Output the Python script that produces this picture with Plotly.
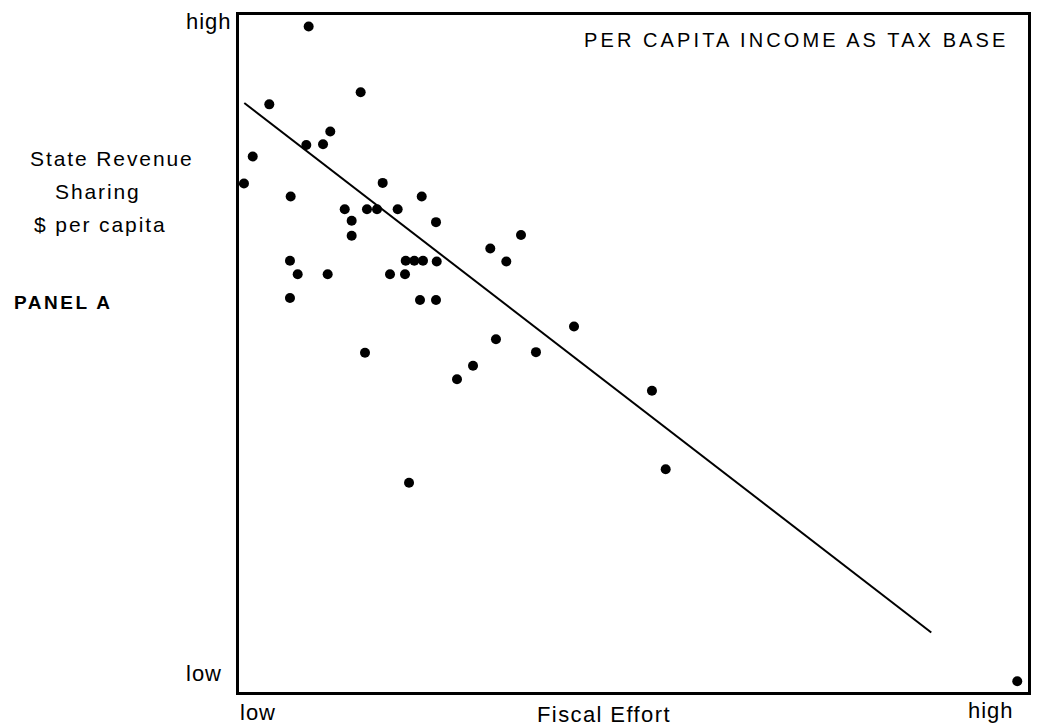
import plotly.graph_objects as go

# Fiscal effort (x) vs state revenue sharing per capita (y), on a 0-100 relative scale
fiscal_effort = [8.83, 3.84, 15.42, 1.74, 0.63, 8.53, 10.65, 11.57, 6.55, 18.21,
                 13.40, 16.22, 17.49, 20.11, 14.28, 14.28, 23.16, 24.97, 6.46, 7.44,
                 11.24, 6.46, 19.14, 21.04, 21.13, 22.22, 23.32, 25.06, 22.94, 24.97,
                 15.97, 21.55, 31.85, 35.74, 33.88, 32.57, 37.64, 42.46, 27.63, 29.66,
                 52.34, 54.08, 98.64]
revenue_sharing = [98.3, 86.8, 88.6, 79.1, 75.1, 80.8, 80.9, 82.8, 73.2, 75.2,
                   71.3, 71.3, 71.3, 71.3, 69.6, 67.4, 73.2, 69.4, 63.7, 61.7,
                   61.7, 58.2, 61.7, 61.7, 63.7, 63.7, 63.7, 63.6, 57.9, 57.9,
                   50.1, 30.9, 65.5, 67.5, 63.6, 52.1, 50.2, 54.0, 46.2, 48.2,
                   44.5, 32.9, 1.6]

# fitted regression line end points
fit_x = [0.67, 87.74]
fit_y = [87.0, 8.8]

title_text = "PER CAPITA INCOME AS TAX BASE"
x_title = "Fiscal Effort"
y_title_lines = ["State Revenue", "Sharing", "$ per capita"]
panel_label = "PANEL A"
low_label, high_label = "low", "high"

FONT = "Liberation Sans, Arial, sans-serif"

W, H = 1043, 727
L, R, T, B = 239, 13, 15, 35
PW, PH = W - L - R, H - T - B

def px(x):
    return (x - L) / PW

def py(y):
    return (H - B - y) / PH

fig = go.Figure()
fig.add_trace(go.Scatter(x=fit_x, y=fit_y, mode="lines",
                         line=dict(color="black", width=2), showlegend=False,
                         hoverinfo="skip"))
fig.add_trace(go.Scatter(x=fiscal_effort, y=revenue_sharing, mode="markers",
                         marker=dict(color="black", size=10), showlegend=False))

axis_common = dict(range=[0, 100], showgrid=False, zeroline=False, showticklabels=False,
                   ticks="", showline=True, linecolor="black", linewidth=3, mirror=True)
fig.update_xaxes(**axis_common)
fig.update_yaxes(**axis_common)

ann = []
def add(text, x, y, xa="center", ya="middle", size=21, bold=False, spacing=None):
    t = f"<b>{text}</b>" if bold else text
    if spacing:
        t = f'<span style="letter-spacing:{spacing}px">{t}</span>'
    ann.append(dict(text=t, x=px(x), y=py(y), xref="paper", yref="paper",
                    xanchor=xa, yanchor=ya, showarrow=False,
                    font=dict(family=FONT, size=size, color="black")))

add(high_label, 234, 22, xa="right", size=22, spacing=1)
add(low_label, 224, 673, xa="right", size=22, spacing=1)
add(low_label, 258, 712, size=22, spacing=1)
add(high_label, 993, 710, size=22, spacing=1)
add(x_title, 605, 714, size=22, spacing=1.4)
add(title_text, 1012, 40, xa="right", size=20, spacing=3.1)
for line, cx, cy in zip(y_title_lines, [112, 98, 100], [158, 192, 224]):
    add(line, cx, cy, size=21, spacing=1.9)
add(panel_label, 63, 302, size=19, bold=True, spacing=2.5)

fig.update_layout(width=W, height=H, margin=dict(l=L, r=R, t=T, b=B),
                  plot_bgcolor="white", paper_bgcolor="white", annotations=ann,
                  font=dict(family=FONT, color="black"))

fig.write_html("out.html", config={"displayModeBar": False},
               post_script="document.body.style.margin='0';")
